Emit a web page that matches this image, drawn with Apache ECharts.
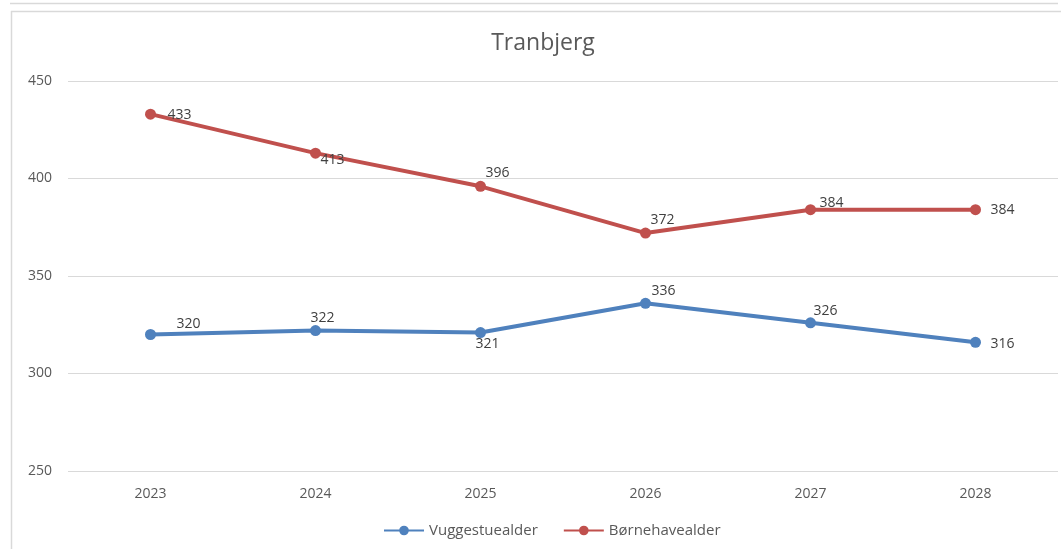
<!DOCTYPE html>
<html>
<head>
<meta charset="utf-8">
<script src="https://cdn.jsdelivr.net/npm/echarts@6/dist/echarts.min.js"></script>
<style>
  html, body { margin: 0; padding: 0; background: #fff; }
  #main { width: 1061px; height: 549px; }
</style>
</head>
<body>
<div id="main"></div>
<script type="text/javascript">
    // data
    var years = ['2023', '2024', '2025', '2026', '2027', '2028'];
    var vuggestue = [320, 322, 321, 336, 326, 316];
    var boernehave = [433, 413, 396, 372, 384, 384];

    // label offsets (like Excel's manual placement)
    var blueOffsets = [[38, -10], [7, -13], [7, 11], [18, -12], [15, -12], [27, 2]];
    var redOffsets = [[29, 1], [17, 7], [17, -13], [17, -13], [21, -7], [27, 0]];

    var font = '"Open Sans", "Liberation Sans", sans-serif';

    function withLabels(values, offsets) {
        return values.map(function (v, i) {
            return { value: v, label: { offset: offsets[i] } };
        });
    }

    var myChart = echarts.init(document.getElementById('main'));

    var option = {
        animation: false,
        title: {
            text: 'Tranbjerg',
            left: 538,
            textAlign: 'center',
            top: 27,
            textStyle: { fontFamily: font, fontSize: 23, fontWeight: 'normal', color: '#595959' }
        },
        legend: {
            bottom: 6,
            left: 378,
            itemWidth: 40,
            itemHeight: 12,
            itemGap: 25,
            textStyle: { fontFamily: font, fontSize: 15, color: '#595959' },
            data: ['Vuggestuealder', 'Børnehavealder']
        },
        grid: { left: 68, right: 3, top: 81, bottom: 78 },
        xAxis: {
            type: 'category',
            data: years,
            boundaryGap: true,
            axisLine: { show: false },
            axisTick: { show: false },
            axisLabel: { fontFamily: font, fontSize: 14, color: '#595959', margin: 16 }
        },
        yAxis: {
            type: 'value',
            min: 250,
            max: 450,
            interval: 50,
            axisLine: { show: false },
            axisTick: { show: false },
            axisLabel: { fontFamily: font, fontSize: 14, color: '#595959', margin: 16 },
            splitLine: { lineStyle: { color: '#d9d9d9', width: 1 } }
        },
        graphic: [
            { type: 'line', shape: { x1: 10, y1: 3.5, x2: 1058, y2: 3.5 }, style: { stroke: '#d9d9d9', lineWidth: 1.5 } },
            { type: 'line', shape: { x1: 11, y1: 11.5, x2: 1061, y2: 11.5 }, style: { stroke: '#d9d9d9', lineWidth: 1.5 } },
            { type: 'line', shape: { x1: 11.5, y1: 11, x2: 11.5, y2: 549 }, style: { stroke: '#d9d9d9', lineWidth: 1.5 } }
        ],
        series: [
            {
                name: 'Vuggestuealder',
                type: 'line',
                data: withLabels(vuggestue, blueOffsets),
                symbol: 'circle',
                symbolSize: 11,
                color: '#4f81bd',
                lineStyle: { width: 4, color: '#4f81bd' },
                label: { show: true, position: 'inside', fontFamily: font, fontSize: 14, color: '#404040' }
            },
            {
                name: 'Børnehavealder',
                type: 'line',
                data: withLabels(boernehave, redOffsets),
                symbol: 'circle',
                symbolSize: 11,
                color: '#c0504d',
                lineStyle: { width: 4, color: '#c0504d' },
                label: { show: true, position: 'inside', fontFamily: font, fontSize: 14, color: '#404040' }
            }
        ]
    };

    myChart.setOption(option);
</script>
</body>
</html>
